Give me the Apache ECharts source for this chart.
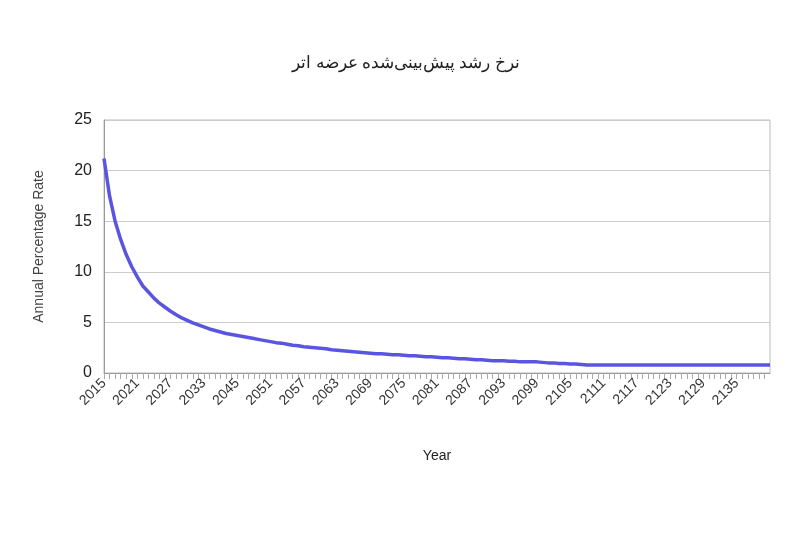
<!DOCTYPE html>
<html><head><meta charset="utf-8">
<script src="https://cdn.jsdelivr.net/npm/echarts@6/dist/echarts.min.js"></script>
<style>html,body{margin:0;background:#fff}#c{width:812px;height:540px}</style>
</head><body><div id="c"></div>
<script>
const titleText = 'نرخ رشد پیش‌بینی‌شده عرضه اتر';
const years = [];
for (let y = 2015; y <= 2033; y++) years.push(String(y));
for (let y = 2040; y <= 2141; y++) years.push(String(y));
const rates = [21.2,17.5,15,13.2,11.7,10.5,9.5,8.6,8.0,7.4,6.9,6.5,6.1,5.75,5.45,5.2,4.95,4.75,4.55,4.35,4.2,4.05,3.9,3.8,3.7,3.6,3.5,3.4,3.3,3.2,3.1,3.0,2.95,2.85,2.75,2.7,2.6,2.55,2.5,2.45,2.4,2.3,2.25,2.2,2.15,
2.1,2.05,2.0,1.95,1.9,1.9,1.85,1.8,
1.8,1.75,1.7,1.7,1.65,1.6,1.6,1.55,1.5,
1.5,1.45,1.4,1.4,1.35,1.3,1.3,1.25,1.2,
1.2,1.2,1.15,1.15,1.1,1.1,1.1,1.1,1.05,
1.0,1.0,0.95,0.95,0.9,0.9,0.85,
0.8,0.8,0.8,0.8,0.8,0.8,0.8,0.8,0.8,0.8,0.8,0.8,0.8,0.8,0.8,0.8,0.8,0.8,0.8,0.8,0.8,0.8,0.8,0.8,0.8,0.8,0.8,0.8,0.8,0.8,0.8,0.8,0.8,0.8];
const yTicks = [0,5,10,15,20,25];
const chart = echarts.init(document.getElementById('c'));
chart.setOption({
  animation:false,
  title:{text:titleText,left:'center',top:50,textStyle:{fontFamily:'Noto Sans',fontSize:17,fontWeight:'normal',color:'#222'}},
  grid:{left:104,right:42,top:120,bottom:167,show:true,borderColor:'#bbb',borderWidth:1},
  xAxis:{type:'category',data:years,boundaryGap:false,name:'Year',nameLocation:'middle',nameGap:76,
    nameTextStyle:{fontFamily:'Arial',fontSize:14,color:'#222'},
    axisLine:{lineStyle:{color:'#999'}},axisTick:{show:true,interval:0,length:6,lineStyle:{color:'#aaa'}},
    axisLabel:{interval:5,rotate:45,fontFamily:'Arial',fontSize:14,color:'#333',margin:8,showMaxLabel:false},
    splitLine:{show:false}},
  yAxis:{type:'value',min:yTicks[0],max:yTicks[yTicks.length-1],interval:5,name:'Annual Percentage Rate',nameLocation:'middle',nameGap:58,
    nameTextStyle:{fontFamily:'Arial',fontSize:14,color:'#444'},
    axisLine:{show:true,lineStyle:{color:'#999'}},
    axisLabel:{fontFamily:'Arial',fontSize:16,color:'#222',margin:12},
    splitLine:{lineStyle:{color:'#ccc'}}},
  series:[{type:'line',data:rates,showSymbol:false,smooth:false,lineStyle:{color:'#5a55e0',width:3.5},itemStyle:{color:'#5a55e0'}}]
});
</script></body></html>
